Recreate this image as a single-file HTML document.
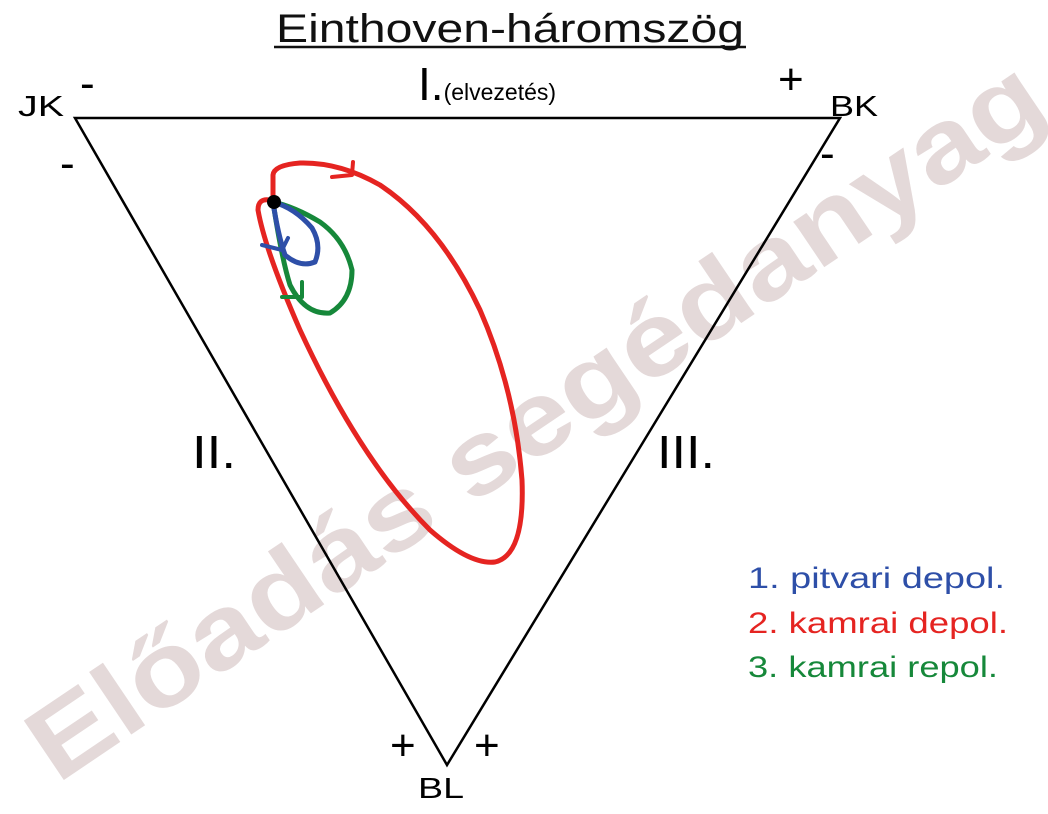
<!DOCTYPE html>
<html><head><meta charset="utf-8"><style>
html,body{margin:0;padding:0;background:#fff}
svg{display:block;font-family:"Liberation Sans",sans-serif}
</style></head><body>
<svg width="1048" height="814" viewBox="0 0 1048 814">
<text x="535" y="455" text-anchor="middle" font-size="104" font-weight="bold" fill="#e4d9d9" textLength="1200" lengthAdjust="spacingAndGlyphs" transform="rotate(-34 535 420)">Előadás segédanyag</text>
<text x="276" y="42" font-size="40" fill="#111" textLength="468" lengthAdjust="spacingAndGlyphs">Einthoven-háromszög</text>
<line x1="274" y1="47" x2="746" y2="47" stroke="#111" stroke-width="2.5"/>
<polygon points="75,118 840,118 447,765" fill="none" stroke="#000" stroke-width="2.5"/>
<text x="18" y="116" font-size="29" textLength="46" lengthAdjust="spacingAndGlyphs">JK</text>
<text x="830" y="116" font-size="29" textLength="48" lengthAdjust="spacingAndGlyphs">BK</text>
<text x="418" y="798" font-size="29" textLength="46" lengthAdjust="spacingAndGlyphs">BL</text>
<text x="418" y="100" font-size="46">I.<tspan font-size="23">(elvezetés)</tspan></text>
<text x="192" y="468" font-size="46" textLength="44" lengthAdjust="spacingAndGlyphs">II.</text>
<text x="657" y="468" font-size="46" textLength="58" lengthAdjust="spacingAndGlyphs">III.</text>
<text x="80" y="98" font-size="44">-</text>
<text x="60" y="178" font-size="44">-</text>
<text x="778" y="94" font-size="44">+</text>
<text x="820" y="168" font-size="44">-</text>
<text x="390" y="760" font-size="44">+</text>
<text x="474" y="760" font-size="44">+</text>
<g fill="none" stroke-linecap="round" stroke-linejoin="round">
<path stroke="#e52421" stroke-width="5" d="M273,202 L273,175 Q274,165 300,163 Q340,162 380,185 Q440,225 480,310 Q515,390 522,480 Q525,555 495,562 Q470,565 430,530 Q360,460 300,330 Q265,250 258,210 Q258,198 270,200"/>
<path stroke="#e52421" stroke-width="4" d="M332,177 L352,175 L353,162"/>
<path stroke="#16883a" stroke-width="5" d="M273,202 Q282,260 290,285 Q305,315 330,313 Q352,300 352,270 Q345,240 320,222 Q295,207 273,202"/>
<path stroke="#16883a" stroke-width="4" d="M282,297 L302,297 L302,282"/>
<path stroke="#2e4fa8" stroke-width="5" d="M273,202 Q278,235 285,255 Q300,268 315,262 Q322,245 312,228 Q295,208 273,202"/>
<path stroke="#2e4fa8" stroke-width="4" d="M262,245 L282,250 L288,238"/>
</g>
<circle cx="274" cy="202" r="7" fill="#000"/>
<text x="748" y="588" font-size="30" fill="#2e4fa8" textLength="257" lengthAdjust="spacingAndGlyphs">1. pitvari depol.</text>
<text x="748" y="633" font-size="30" fill="#e52421" textLength="260" lengthAdjust="spacingAndGlyphs">2. kamrai depol.</text>
<text x="748" y="677" font-size="30" fill="#16883a" textLength="250" lengthAdjust="spacingAndGlyphs">3. kamrai repol.</text>
</svg>
</body></html>
